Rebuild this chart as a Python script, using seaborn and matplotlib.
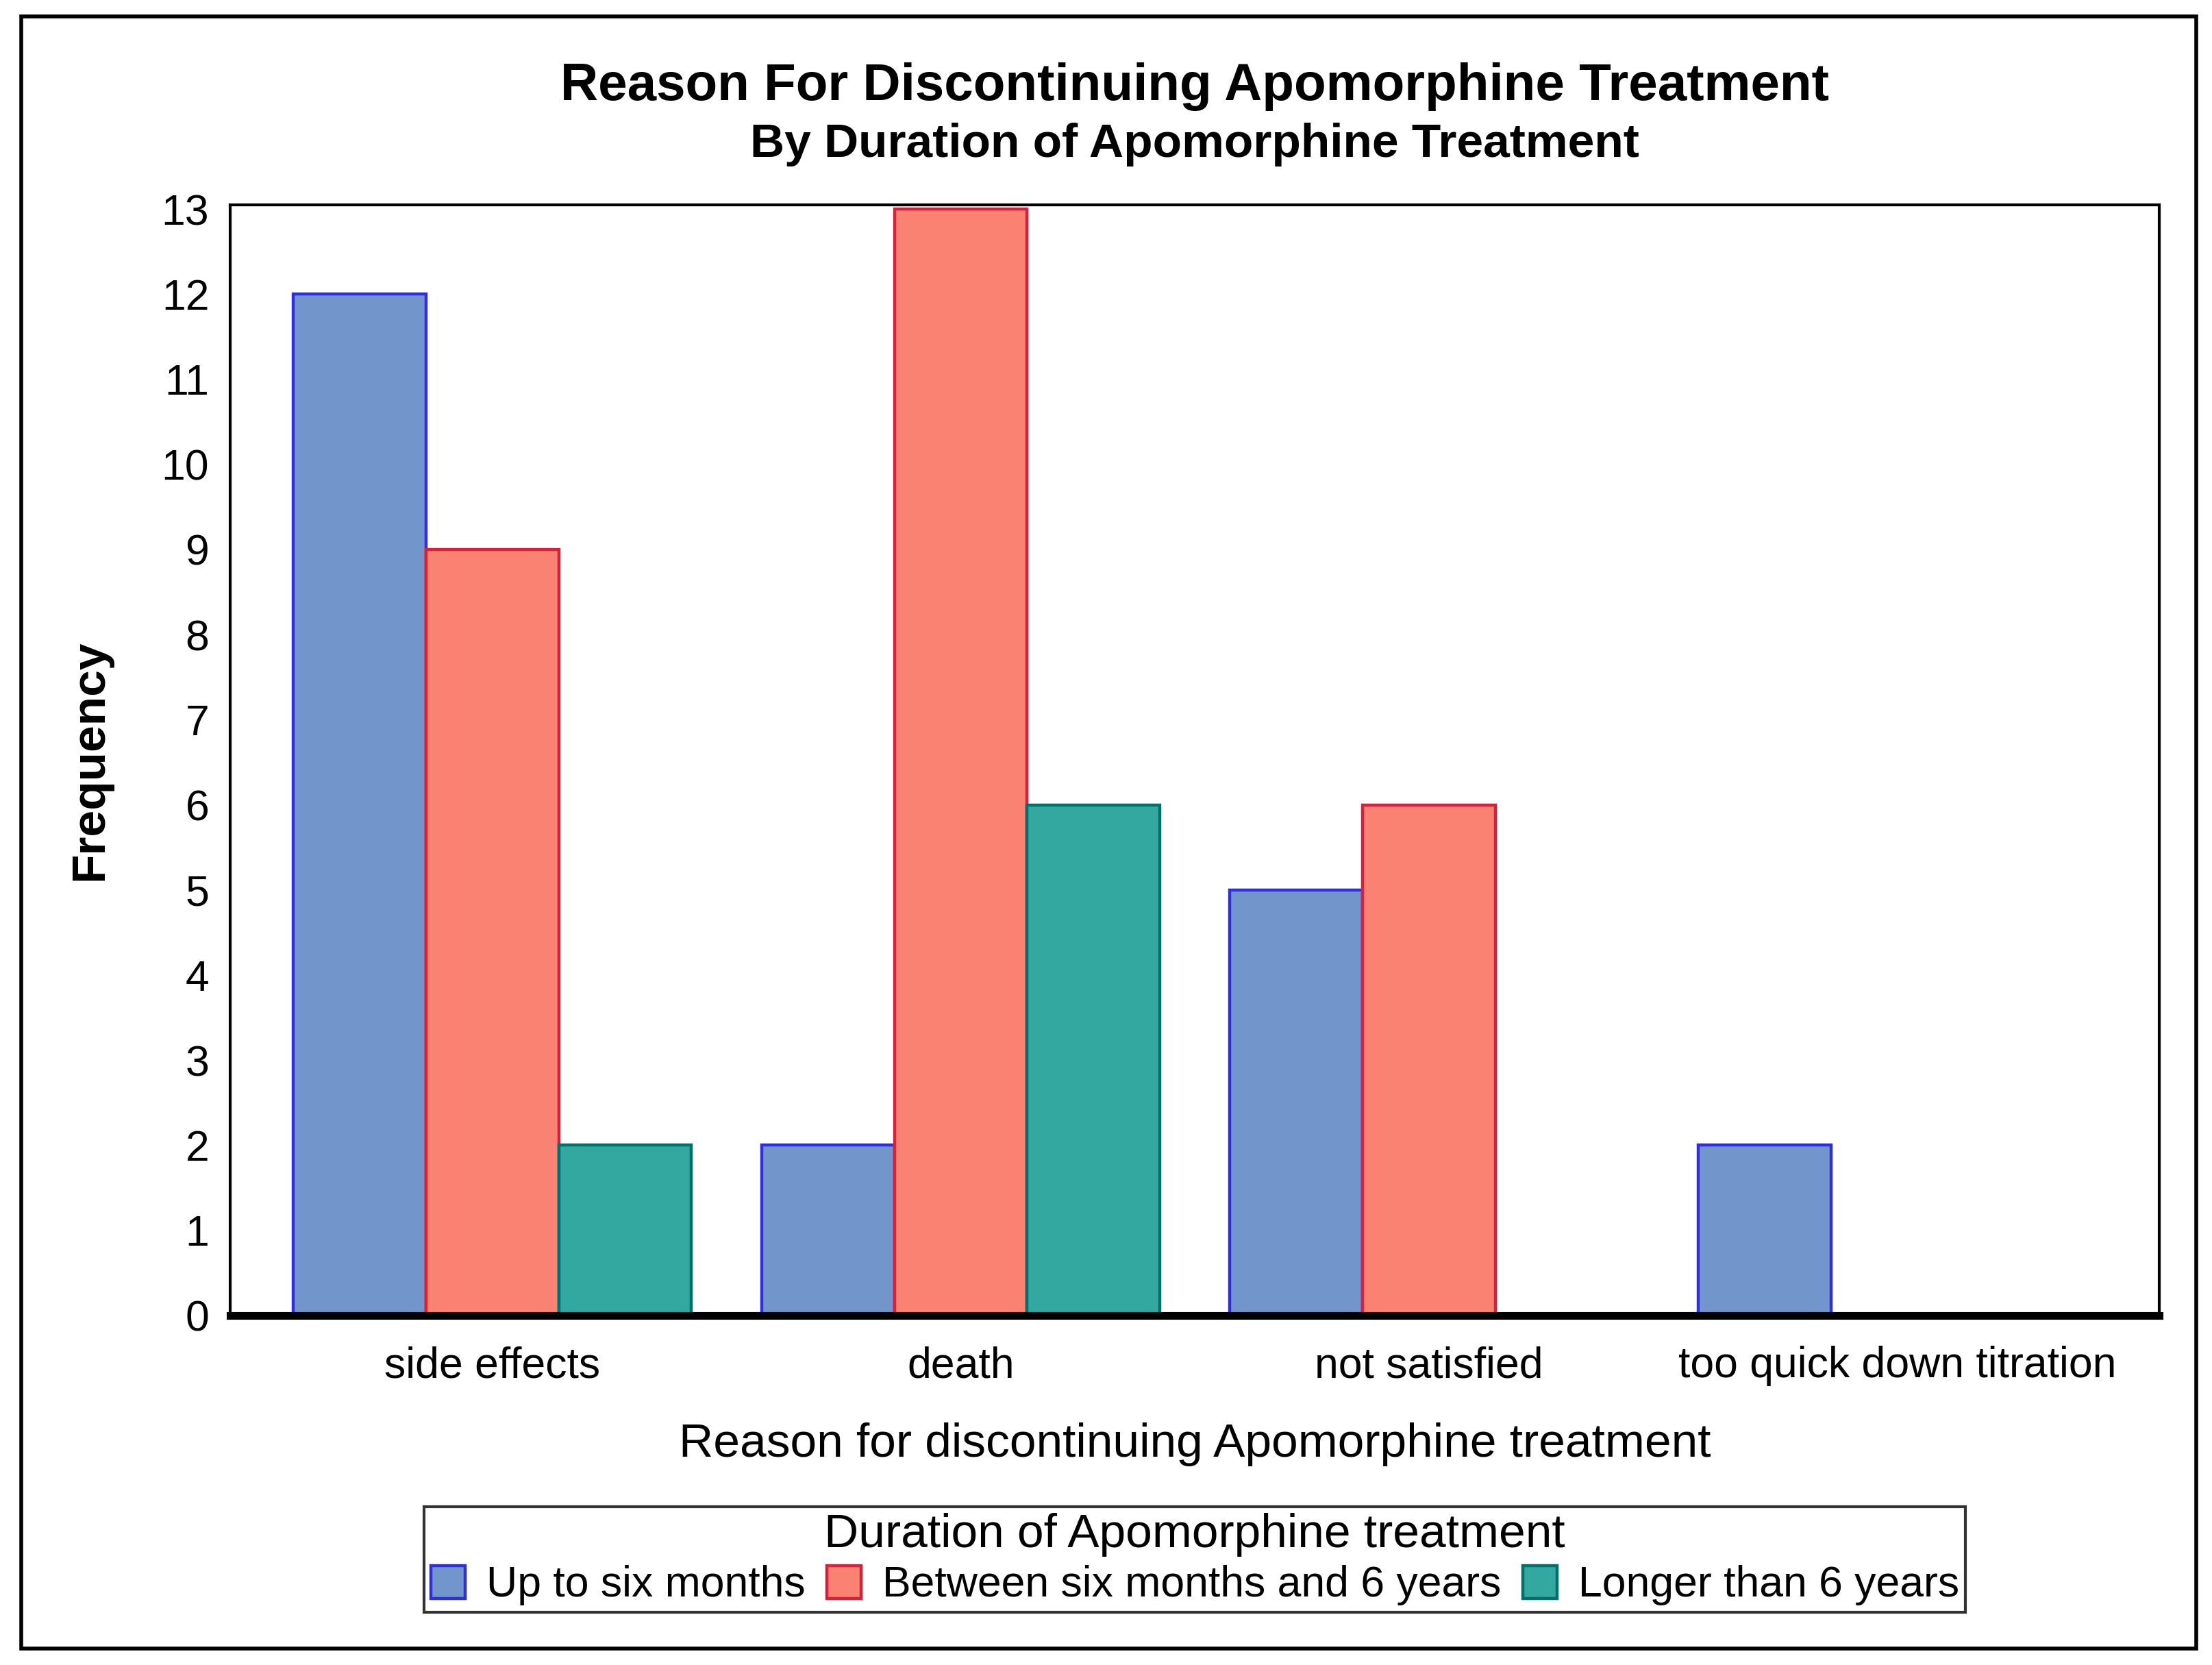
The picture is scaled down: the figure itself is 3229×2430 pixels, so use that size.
import pandas as pd
import seaborn as sns
import matplotlib.pyplot as plt
from matplotlib.patches import Rectangle

reasons = ["side effects", "death", "not satisfied", "too quick down titration"]
durations = ["Up to six months", "Between six months and 6 years", "Longer than 6 years"]
up_to_six = [12, 2, 5, 2]
six_m_to_6y = [9, 13, 6, 0]
longer_6y = [2, 6, 0, 0]

fills = ["#7296cc", "#f98272", "#33a8a0"]
edges = ["#2f2fe0", "#d8203a", "#00706a"]

rows = []
for vals, dur in zip([up_to_six, six_m_to_6y, longer_6y], durations):
    for r, v in zip(reasons, vals):
        rows.append({"reason": r, "duration": dur, "freq": v})
df = pd.DataFrame(rows)

sns.set_style("white")
plt.rcParams['font.family'] = ['Liberation Sans', 'DejaVu Sans']
plt.rcParams['text.color'] = 'black'
plt.rcParams['axes.labelcolor'] = 'black'
plt.rcParams['xtick.color'] = 'black'
plt.rcParams['ytick.color'] = 'black'

fig = plt.figure(figsize=(16.15, 12.15), dpi=200)
ax = fig.add_axes([0.104, 0.210, 0.872, 0.667])

sns.barplot(data=df, x="reason", y="freq", hue="duration", order=reasons,
            hue_order=durations, palette=fills, width=0.85, saturation=1,
            ax=ax, legend=False)
for cont, ec in zip(ax.containers, edges):
    for bar in cont:
        bar.set_edgecolor(ec)
        bar.set_linewidth(1.6)

ax.set_xlim(-0.56, 3.56)
ax.set_ylim(0, 13.05)
ax.set_yticks(range(0, 14))
ax.tick_params(axis='both', labelsize=22.5, length=0, pad=11)
ax.tick_params(axis='x', pad=16)
ax.set_xlabel("Reason for discontinuing Apomorphine treatment", fontsize=25, labelpad=19)
ax.set_ylabel("Frequency", fontsize=25, fontweight='bold', labelpad=26)
for s in ["top", "right", "left"]:
    ax.spines[s].set_linewidth(1.5)
    ax.spines[s].set_color("black")
ax.spines["bottom"].set_linewidth(4)
ax.spines["bottom"].set_color("black")

fig.text(0.54, 0.948, "Reason For Discontinuing Apomorphine Treatment",
         ha='center', va='center', fontsize=27.5, fontweight='bold')
fig.text(0.54, 0.913, "By Duration of Apomorphine Treatment",
         ha='center', va='center', fontsize=25, fontweight='bold')

handles = [Rectangle((0, 0), 1, 1, facecolor=f, edgecolor=e, linewidth=1.6)
           for f, e in zip(fills, edges)]
leg = fig.legend(handles, durations, loc='center', bbox_to_anchor=(0.54, 0.0635),
                 ncol=3, fontsize=22.5, title="Duration of Apomorphine treatment",
                 title_fontsize=25, frameon=True, fancybox=False,
                 handlelength=0.8, handleheight=0.8, handletextpad=0.5,
                 columnspacing=0.5, borderpad=0.15, labelspacing=0.2,
                 borderaxespad=0)
leg.get_frame().set_edgecolor("black")
leg.get_frame().set_linewidth(1.5)

fig.patches.append(Rectangle((0.0096, 0.01), 0.983, 0.98, transform=fig.transFigure,
                             fill=False, edgecolor="black", linewidth=2))

fig.savefig("out.png", dpi=200)
